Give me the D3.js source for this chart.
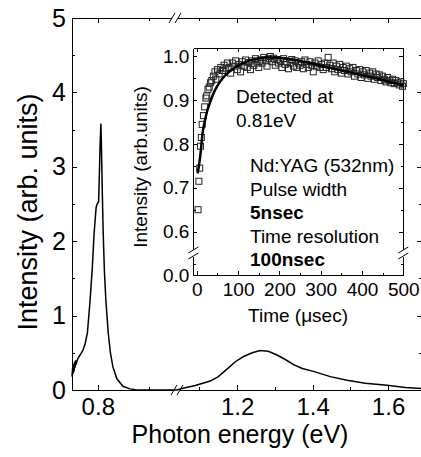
<!DOCTYPE html>
<html>
<head>
<meta charset="utf-8">
<script src="https://cdn.jsdelivr.net/npm/d3@7"></script>
<style>
body { margin: 0; background: #fff; }
svg text { font-family: "Liberation Sans", Arial, sans-serif; fill: #000; }
.axis path, .axis line { stroke: #000; stroke-width: 1; shape-rendering: crispEdges; }
</style>
</head>
<body>
<div class="graph"></div>
<script>
// PL spectrum, part left of the axis break
const energyLeft = [0.750, 0.7512, 0.7521, 0.7531, 0.7541, 0.7550, 0.7560, 0.7570, 0.7580, 0.7600, 0.7618,
  0.7657, 0.7715, 0.7754, 0.7799, 0.7850, 0.7895, 0.7928, 0.7967, 0.7986, 0.8016, 0.8030, 0.8045, 0.8060,
  0.8070, 0.8086, 0.8105, 0.8128, 0.8157, 0.8202, 0.8245, 0.8293, 0.8370, 0.8487, 0.8622, 0.8758, 0.9000, 0.9535];
const intensityLeft = [0.18, 0.30, 0.22, 0.35, 0.25, 0.38, 0.30, 0.40, 0.34, 0.40, 0.43,
  0.47, 0.54, 0.62, 0.77, 1.20, 1.66, 2.10, 2.45, 2.50, 2.53, 2.90, 3.30, 3.58,
  3.30, 2.70, 2.10, 1.60, 1.20, 0.77, 0.50, 0.31, 0.15, 0.05, 0.015, 0.0, 0.0, 0.0];

// PL spectrum, part right of the axis break
const energyRight = [1.0405, 1.0536, 1.089, 1.1286, 1.150, 1.173, 1.195, 1.217, 1.240, 1.261, 1.2825,
  1.3056, 1.3276, 1.3496, 1.3727, 1.4019, 1.447, 1.4912, 1.5397, 1.5974, 1.646, 1.690];
const intensityRight = [0.0, 0.02, 0.06, 0.12, 0.18, 0.28, 0.38, 0.45, 0.50, 0.53, 0.52,
  0.47, 0.41, 0.34, 0.29, 0.25, 0.18, 0.13, 0.09, 0.065, 0.035, 0.02];

// inset: decay trace (squares) and fit (line)
const timeData = [3, 5, 7, 9, 11, 13, 16, 19, 22, 24, 27, 30, 33, 36, 40, 44, 46, 50, 54, 58, 62, 66, 70, 74, 78,
  82, 86, 90, 94, 98, 102, 106, 110, 114, 118, 122, 126, 130, 134, 138, 142, 146, 150, 154, 158, 162, 166,
  170, 174, 178, 182, 186, 190, 194, 198, 202, 206, 210, 214, 218, 222, 226, 230, 234, 238, 242, 246, 250,
  254, 258, 262, 266, 270, 274, 278, 282, 286, 290, 294, 298, 302, 306, 310, 314, 318, 322, 326, 330, 334,
  338, 342, 346, 350, 354, 358, 362, 366, 370, 374, 378, 382, 386, 390, 394, 398, 402, 406, 410, 414, 418,
  422, 426, 430, 434, 438, 442, 446, 450, 454, 458, 462, 466, 470, 474, 478, 482, 486, 490, 494, 498, 500];
const signalData = [0.65, 0.715, 0.745, 0.795, 0.815, 0.845, 0.865, 0.885, 0.905, 0.91, 0.925, 0.93, 0.94, 0.945,
  0.955, 0.965, 0.948, 0.97, 0.96, 0.975, 0.968, 0.98, 0.972, 0.985, 0.975, 0.962, 0.985, 0.978, 0.99, 0.97,
  0.982, 0.965, 0.988, 0.978, 0.992, 0.975, 0.986, 0.97, 0.99, 0.98, 0.995, 0.985, 0.975, 0.992, 0.985, 0.998,
  0.99, 0.978, 0.995, 1.0, 0.988, 0.996, 0.98, 0.993, 0.985, 0.99, 0.975, 0.995, 0.982, 0.988, 0.972, 0.985,
  0.993, 0.978, 0.99, 0.975, 0.985, 0.98, 0.988, 0.972, 0.992, 0.982, 0.975, 0.988, 0.98, 0.965, 0.985, 0.978,
  0.99, 0.975, 0.982, 0.97, 0.985, 0.975, 0.998, 0.98, 0.972, 0.985, 0.965, 0.978, 0.97, 0.982, 0.962, 0.975,
  0.968, 0.978, 0.96, 0.972, 0.965, 0.975, 0.955, 0.968, 0.96, 0.97, 0.952, 0.965, 0.958, 0.968, 0.95, 0.962,
  0.955, 0.965, 0.948, 0.96, 0.952, 0.958, 0.945, 0.955, 0.948, 0.942, 0.952, 0.945, 0.94, 0.948, 0.938,
  0.945, 0.94, 0.935, 0.942, 0.932, 0.938];
const timeFit = [2, 5, 8, 14, 20, 25, 32, 40, 48, 56, 70, 88, 105, 129, 150, 170, 200, 250, 300, 350, 400, 450, 500];
const signalFit = [0.733, 0.75, 0.77, 0.825, 0.855, 0.875, 0.895, 0.915, 0.93, 0.942, 0.958, 0.972, 0.982,
  0.991, 0.996, 0.998, 0.997, 0.99, 0.979, 0.968, 0.957, 0.946, 0.934];

const mainYMajor = [0, 1, 2, 3, 4, 5];
const mainYMinor = [0.5, 1.5, 2.5, 3.5, 4.5];
const leftXMajor = [0.8], leftXMinor = [0.9];
const rightXMajor = [1.2, 1.4, 1.6], rightXMinor = [1.1, 1.3, 1.5];
const insetXMajor = [0, 100, 200, 300, 400, 500];
const insetXMinor = [50, 150, 250, 350, 450];
const insetYMajor = [0.6, 0.7, 0.8, 0.9, 1.0];
const insetYMinor = [0.65, 0.75, 0.85, 0.95];
const notes = ["Nd:YAG (532nm)", "Pulse width", "5nsec", "Time resolution", "100nsec"];

const svg = d3.select(".graph").append("svg").attr("width", 421).attr("height", 457);
svg.append("rect").attr("width", 421).attr("height", 457).attr("fill", "#fff");

// main plot scales (x axis is broken in two)
const xL = d3.scaleLinear().domain([0.75, 0.9535]).range([72, 177]);
const xR = d3.scaleLinear().domain([1.0405, 1.69]).range([177, 422]);
const y = d3.scaleLinear().domain([0, 5]).range([390, 18]);

function addAxis(axis, tx, ty, fontSize, labels) {
  const g = svg.append("g").attr("class", "axis")
    .attr("transform", "translate(" + tx + "," + ty + ")")
    .call(axis);
  if (labels) g.selectAll("text").style("font-size", fontSize + "px").attr("fill", "#000");
  else g.selectAll("text").remove();
  return g;
}

// bottom
addAxis(d3.axisBottom(xL).tickValues(leftXMajor).tickSize(-5).tickSizeOuter(0).tickPadding(8).tickFormat(d3.format(".1f")), 0, 390, 24, true);
addAxis(d3.axisBottom(xL).tickValues(leftXMinor).tickSize(-3).tickSizeOuter(0), 0, 390);
addAxis(d3.axisBottom(xR).tickValues(rightXMajor).tickSize(-5).tickSizeOuter(0).tickPadding(8).tickFormat(d3.format(".1f")), 0, 390, 24, true);
addAxis(d3.axisBottom(xR).tickValues(rightXMinor).tickSize(-3).tickSizeOuter(0), 0, 390);
// top
addAxis(d3.axisTop(xL).tickValues(leftXMajor).tickSize(-5).tickSizeOuter(0), 0, 18);
addAxis(d3.axisTop(xL).tickValues(leftXMinor).tickSize(-3).tickSizeOuter(0), 0, 18);
addAxis(d3.axisTop(xR).tickValues(rightXMajor).tickSize(-5).tickSizeOuter(0), 0, 18);
addAxis(d3.axisTop(xR).tickValues(rightXMinor).tickSize(-3).tickSizeOuter(0), 0, 18);
// left / right
addAxis(d3.axisLeft(y).tickValues(mainYMajor).tickSize(-5).tickSizeOuter(0).tickPadding(6).tickFormat(d3.format("d")), 72, 0, 25, true);
addAxis(d3.axisLeft(y).tickValues(mainYMinor).tickSize(-3).tickSizeOuter(0), 72, 0);
addAxis(d3.axisRight(y).tickValues(mainYMajor).tickSize(-5).tickSizeOuter(0), 422, 0);
addAxis(d3.axisRight(y).tickValues(mainYMinor).tickSize(-3).tickSizeOuter(0), 422, 0);

// "//" marks on broken axes
function breakMark(cx, cy, horizontal) {
  const b = svg.append("g");
  b.append("rect").attr("x", cx - 3).attr("y", cy - 3).attr("width", 6).attr("height", 6).attr("fill", "#fff");
  if (horizontal) {
    [-3, 3].forEach(d => b.append("line")
      .attr("x1", cx + d - 3).attr("y1", cy + 5).attr("x2", cx + d + 3).attr("y2", cy - 5)
      .attr("stroke", "#000").attr("stroke-width", 1));
  } else {
    [-3, 3].forEach(d => b.append("line")
      .attr("x1", cx - 5).attr("y1", cy + d + 3).attr("x2", cx + 5).attr("y2", cy + d - 3)
      .attr("stroke", "#000").attr("stroke-width", 1));
  }
}
breakMark(177, 390, true);
breakMark(175, 18, true);

// spectrum
const lineL = d3.line().x((d, i) => xL(energyLeft[i])).y(d => y(d));
const lineR = d3.line().x((d, i) => xR(energyRight[i])).y(d => y(d));
svg.append("path").attr("d", lineL(intensityLeft)).attr("fill", "none").attr("stroke", "#000").attr("stroke-width", 1.5);
svg.append("path").attr("d", lineR(intensityRight)).attr("fill", "none").attr("stroke", "#000").attr("stroke-width", 1.5);

// axis titles
svg.append("text").attr("x", 240).attr("y", 443).attr("text-anchor", "middle")
  .style("font-size", "25px").text("Photon energy (eV)");
svg.append("text").attr("transform", "translate(37,212) rotate(-90)").attr("text-anchor", "middle")
  .style("font-size", "27px").text("Intensity (arb. units)");

// ---- inset ----
const xi = d3.scaleLinear().domain([-8.5, 500]).range([193.3, 403.3]);
const yiU = d3.scaleLinear().domain([0.558, 1.0187]).range([250, 48.3]);
const yiL = d3.scaleLinear().domain([0, 0.045]).range([275, 256]);

addAxis(d3.axisBottom(xi).tickValues(insetXMajor).tickSize(-4).tickSizeOuter(0).tickPadding(8).tickFormat(d3.format("d")), 0, 275, 19, true);
addAxis(d3.axisBottom(xi).tickValues(insetXMinor).tickSize(-2.5).tickSizeOuter(0), 0, 275);
addAxis(d3.axisTop(xi).tickValues(insetXMajor).tickSize(-4).tickSizeOuter(0), 0, 48.3);
addAxis(d3.axisTop(xi).tickValues(insetXMinor).tickSize(-2.5).tickSizeOuter(0), 0, 48.3);
addAxis(d3.axisLeft(yiU).tickValues(insetYMajor).tickSize(-4).tickSizeOuter(0).tickPadding(4).tickFormat(d3.format(".1f")), 193.3, 0, 19, true);
addAxis(d3.axisLeft(yiU).tickValues(insetYMinor).tickSize(-2.5).tickSizeOuter(0), 193.3, 0);
addAxis(d3.axisLeft(yiL).tickValues([0]).tickSize(-4).tickSizeOuter(0).tickPadding(4).tickFormat(d3.format(".1f")), 193.3, 0, 19, true);
addAxis(d3.axisLeft(yiL).tickValues([0.025]).tickSize(-2.5).tickSizeOuter(0), 193.3, 0);
addAxis(d3.axisRight(yiU).tickValues(insetYMajor).tickSize(-4).tickSizeOuter(0), 403.3, 0);
addAxis(d3.axisRight(yiU).tickValues(insetYMinor).tickSize(-2.5).tickSizeOuter(0), 403.3, 0);
addAxis(d3.axisRight(yiL).tickValues([0.025]).tickSize(-2.5).tickSizeOuter(0), 403.3, 0);
// close the frame between the y segments
svg.append("line").attr("x1", 193.3).attr("x2", 193.3).attr("y1", 250).attr("y2", 256).attr("stroke", "#000");
svg.append("line").attr("x1", 403.3).attr("x2", 403.3).attr("y1", 250).attr("y2", 256).attr("stroke", "#000");
breakMark(193.3, 253, false);
breakMark(403.3, 253, false);

// decay squares and fit
svg.append("g").selectAll("rect").data(signalData).join("rect")
  .attr("x", (d, i) => xi(timeData[i]) - 3).attr("y", d => yiU(d) - 3)
  .attr("width", 6).attr("height", 6)
  .attr("fill", "none").attr("stroke", "#222").attr("stroke-width", 1);
const fitLine = d3.line().x((d, i) => xi(timeFit[i])).y(d => yiU(d)).curve(d3.curveMonotoneX);
svg.append("path").attr("d", fitLine(signalFit)).attr("fill", "none").attr("stroke", "#000").attr("stroke-width", 2.5);

// inset titles
svg.append("text").attr("x", 298).attr("y", 321.5).attr("text-anchor", "middle")
  .style("font-size", "19px").text("Time (\u03bcsec)");
svg.append("text").attr("transform", "translate(147,167) rotate(-90)").attr("text-anchor", "middle")
  .style("font-size", "19px").text("Intensity (arb.units)");

// notes
svg.append("text").attr("x", 236).attr("y", 103).style("font-size", "19px").text("Detected at");
svg.append("text").attr("x", 236).attr("y", 127).style("font-size", "19px").text("0.81eV");
svg.append("g").selectAll("text").data(notes).join("text")
  .attr("x", 250).attr("y", (d, i) => 172 + i * 23.6)
  .style("font-size", "19px")
  .style("font-weight", d => d.indexOf("nsec") >= 0 ? "bold" : "normal")
  .text(d => d);
</script>
</body>
</html>
